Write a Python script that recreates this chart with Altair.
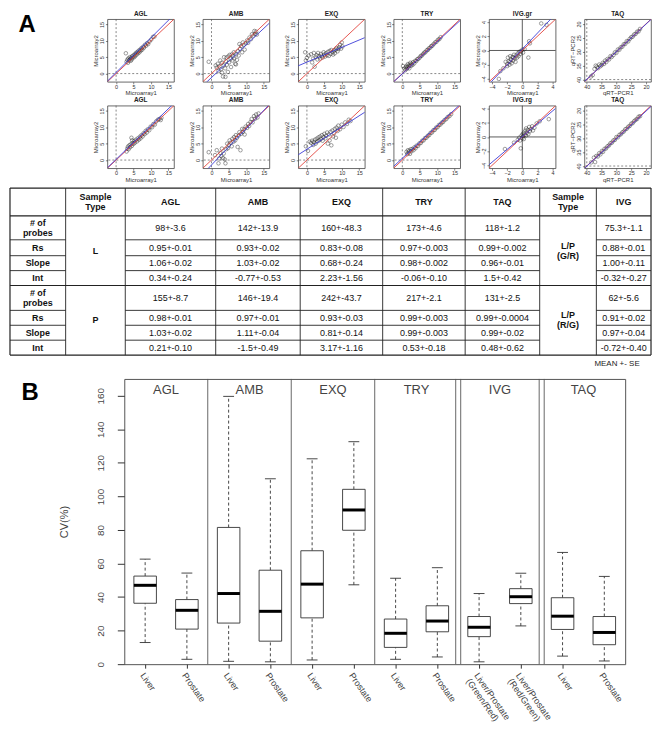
import json
import numpy as np
import pandas as pd
import altair as alt

FONT = "Liberation Sans"
INK = "#333333"

# ---------------- Panel A : scatter data (x, y) ----------------
row1_titles = ["AGL", "AMB", "EXQ", "TRY", "IVG.gr", "TAQ"]
row2_titles = ["AGL", "AMB", "EXQ", "TRY", "IVG.rg", "TAQ"]
panel_kinds = ["micro", "micro", "micro", "micro", "ivg", "taq"]

r1_agl = [(2.8, 6.2), (3.0, 3.6), (3.2, 4.2), (3.4, 3.3), (3.5, 4.6), (3.7, 4.0), (3.9, 5.0), (4.0, 4.4),
          (4.2, 3.9), (4.3, 4.8), (4.5, 4.3), (4.6, 5.3), (4.8, 4.9), (5.0, 5.6), (5.2, 5.0), (5.4, 5.9),
          (5.5, 5.4), (5.7, 6.3), (5.9, 5.8), (6.1, 6.6), (6.3, 6.2), (6.5, 7.0), (6.7, 6.5), (6.9, 7.3),
          (7.1, 7.0), (7.3, 7.8), (7.5, 7.3), (7.8, 8.2), (8.0, 7.9), (8.3, 8.8), (8.6, 8.5), (8.9, 9.3),
          (9.2, 9.0), (9.6, 9.8), (10.1, 10.4), (10.6, 11.2), (11.0, 11.3)]
r1_amb = [(-0.8, 3.6), (1.2, 2.5), (1.5, 1.8), (1.8, 3.0), (2.0, 0.8), (2.3, 2.2), (2.5, 4.0), (2.7, 1.3),
          (3.0, 0.3), (3.0, 3.3), (3.3, -0.9), (3.5, 2.5), (3.6, 5.0), (3.9, 1.6), (4.0, -1.0), (4.1, 3.8),
          (4.3, 4.9), (4.4, 2.7), (4.7, 0.5), (4.8, 5.2), (5.0, 3.4), (5.2, 5.7), (5.5, 4.5), (5.6, 2.0),
          (5.8, 5.8), (6.0, 4.0), (6.2, 5.3), (6.4, 6.5), (6.5, 4.6), (6.8, 3.0), (7.0, 2.8), (7.1, 5.9),
          (7.3, 4.2), (7.6, 6.8), (7.8, 5.5), (8.0, 9.0), (8.2, 7.5), (8.5, 8.4), (8.8, 6.5), (9.0, 9.5),
          (9.3, 8.8), (9.5, 7.3), (9.8, 9.2), (10.2, 10.1), (10.5, 9.4), (10.9, 11.0), (11.3, 10.5),
          (11.6, 12.0), (12.0, 11.6), (12.3, 13.0), (12.5, 12.1), (12.8, 12.8), (13.0, 11.9)]
r1_exq = [(-0.5, 6.5), (0.0, 4.8), (-0.3, 4.0), (0.5, 5.5), (1.2, 5.9), (1.5, 3.4), (1.8, 4.6), (2.0, 6.3),
          (2.2, 2.1), (2.5, 5.0), (2.8, 5.6), (3.0, 4.3), (3.2, 6.3), (3.5, 5.2), (3.8, 4.6), (4.0, 6.0),
          (4.2, 5.4), (4.5, 4.9), (4.8, 6.5), (5.0, 5.8), (5.2, 5.2), (5.5, 6.2), (5.8, 5.6), (6.0, 6.6),
          (6.3, 5.4), (6.5, 6.9), (6.8, 6.0), (7.0, 7.2), (7.3, 6.5), (7.5, 5.8), (7.8, 7.0), (8.0, 6.2),
          (8.3, 7.3), (8.5, 7.8), (8.8, 6.8), (9.0, 7.5), (9.3, 8.0), (9.5, 8.8), (9.8, 7.6), (10.0, 9.5),
          (10.2, 8.3)]
r1_try = [(0.6, 1.5), (0.8, 1.0), (1.0, 2.0), (1.2, 1.4), (1.3, 2.4), (1.5, 1.8), (1.6, 2.9), (1.8, 2.2),
          (2.0, 1.6), (2.1, 2.7), (2.3, 3.3), (2.5, 2.4), (2.7, 3.0), (2.9, 2.6), (3.1, 3.5), (3.4, 3.1),
          (3.7, 3.9), (4.0, 3.8), (4.3, 4.4), (4.6, 4.5), (5.0, 4.9), (5.3, 5.4), (5.6, 5.5), (6.0, 6.0),
          (6.3, 6.4), (6.6, 6.5), (7.0, 7.1), (7.3, 7.2), (7.6, 7.7), (8.0, 7.9), (8.3, 8.4), (8.6, 8.5),
          (9.0, 9.0), (9.4, 9.5), (9.8, 9.7), (10.2, 10.3), (10.6, 10.5), (11.0, 11.1), (0.2, 2.3)]
r1_ivg = [(-3.1, -4.0), (-2.9, -2.9), (-2.5, -2.5), (-2.2, -1.6), (-2.0, -2.2), (-1.9, -1.0), (-1.8, -1.5),
          (-1.7, -2.0), (-1.6, -0.8), (-1.5, -1.3), (-1.4, -1.8), (-1.3, -0.9), (-1.2, -1.4), (-1.1, -0.6),
          (-1.0, -1.1), (-0.9, -1.6), (-0.8, -0.7), (-0.7, -1.0), (-0.6, -0.4), (-0.5, -0.8), (-0.4, -0.2),
          (-0.3, -0.5), (-0.2, -0.1), (0.0, 0.1), (0.1, -0.3), (0.3, 0.2), (0.8, -1.0), (0.9, 1.3),
          (1.0, 1.0), (2.5, 3.8), (3.2, 3.6), (-2.0, -1.9), (-1.6, -1.6), (-1.2, -1.0)]
r1_taq = [(38.6, 38.9), (38.0, 38.4), (37.4, 36.2), (37.0, 35.0), (36.6, 35.4), (36.2, 35.9), (35.8, 34.6),
          (35.4, 35.2), (35.0, 34.8), (34.6, 34.0), (34.2, 34.4), (33.8, 33.2), (33.4, 33.7), (33.0, 32.6),
          (32.5, 32.8), (32.0, 31.6), (31.6, 31.9), (31.0, 31.2), (30.5, 30.2), (30.0, 30.4), (29.5, 29.2),
          (29.0, 29.3), (28.5, 28.4), (28.0, 28.2), (27.5, 27.3), (27.0, 27.2), (26.5, 26.2), (26.0, 26.3),
          (25.5, 25.4), (25.0, 24.8), (24.5, 24.6), (24.0, 23.8), (23.5, 23.6), (23.0, 22.8), (22.5, 22.7),
          (22.0, 21.8)]

r2_agl = [(3.0, 2.6), (3.2, 3.5), (3.4, 4.1), (3.6, 3.3), (3.8, 4.5), (4.0, 3.9), (4.2, 4.8), (4.4, 6.8),
          (4.5, 4.3), (4.6, 6.0), (4.7, 5.2), (5.0, 4.9), (5.2, 5.8), (5.4, 5.3), (5.7, 6.2), (6.0, 5.7),
          (6.2, 6.6), (6.5, 6.2), (6.8, 7.1), (7.0, 6.6), (7.3, 7.6), (7.6, 7.2), (7.9, 8.2), (8.2, 7.9),
          (8.5, 8.9), (8.8, 8.4), (9.1, 9.4), (9.5, 9.1), (9.9, 10.2), (10.3, 10.0), (10.7, 11.0),
          (11.1, 10.8), (11.5, 11.8), (12.0, 12.3), (12.4, 12.5), (12.8, 12.2), (13.0, 12.9)]
r2_amb = [(-0.8, 2.4), (1.0, 1.5), (1.5, 3.0), (2.0, -1.0), (2.2, 0.5), (2.5, 2.2), (2.8, 1.2), (3.0, 3.5),
          (3.3, 0.6), (3.5, 2.0), (3.8, 0.2), (4.0, -1.0), (4.2, 3.3), (4.5, 5.0), (4.7, 3.6), (5.0, 4.6),
          (5.2, 6.0), (5.5, 5.3), (5.8, 4.2), (6.0, 6.5), (6.3, 5.6), (6.5, 7.0), (6.8, 6.0), (7.0, 7.6),
          (7.3, 6.8), (7.5, 4.0), (7.8, 7.5), (8.0, 8.5), (8.3, 3.0), (8.5, 8.0), (8.8, 9.5), (9.0, 8.6),
          (9.3, 9.3), (9.5, 7.8), (9.8, 10.2), (10.2, 9.8), (10.5, 11.0), (10.8, 10.4), (11.2, 11.6),
          (11.5, 12.5), (11.8, 11.5), (12.2, 13.4), (12.5, 12.6), (12.8, 13.9), (13.2, 13.0), (13.5, 14.2)]
r2_exq = [(-0.3, 4.2), (0.3, 2.8), (0.8, 5.6), (1.2, 5.2), (1.5, 5.9), (1.8, 4.6), (2.0, 5.5), (2.3, 6.2),
          (2.5, 5.0), (2.8, 6.5), (3.0, 5.7), (3.3, 6.9), (3.5, 6.0), (3.8, 7.2), (4.0, 6.4), (4.3, 7.6),
          (4.5, 5.9), (4.8, 7.0), (5.0, 8.0), (5.3, 6.6), (5.5, 7.4), (5.8, 8.4), (6.0, 5.0), (6.3, 7.8),
          (6.5, 6.0), (6.8, 8.6), (7.0, 4.5), (7.3, 9.0), (7.5, 7.2), (7.8, 8.2), (8.0, 9.5), (8.3, 6.8),
          (8.5, 9.9), (8.8, 8.9), (9.0, 10.5), (9.5, 9.4), (10.0, 10.8), (10.5, 10.1), (11.0, 11.5),
          (11.5, 11.0), (12.0, 12.3), (12.5, 11.9)]
r2_try = [(1.2, 2.5), (1.4, 1.8), (1.6, 3.0), (1.8, 2.2), (2.0, 2.8), (2.2, 1.9), (2.4, 3.3), (2.6, 2.7),
          (2.9, 3.4), (3.2, 3.0), (3.5, 3.9), (3.8, 3.6), (4.1, 4.4), (4.5, 4.3), (4.9, 5.1), (5.3, 5.2),
          (5.7, 5.9), (6.1, 6.0), (6.5, 6.7), (6.9, 6.8), (7.3, 7.4), (7.7, 7.6), (8.1, 8.3), (8.5, 8.4),
          (8.9, 9.1), (9.3, 9.2), (9.7, 9.9), (10.1, 10.0), (10.5, 10.7), (10.9, 10.8), (11.3, 11.4),
          (11.7, 11.6), (12.1, 12.2), (12.6, 12.5), (13.0, 13.1), (13.5, 13.4), (14.0, 14.0)]
r2_ivg = [(-2.3, -1.7), (-1.1, -0.8), (-0.6, -0.4), (-0.4, -0.1), (-0.3, -0.5), (-0.2, -1.6), (-0.1, 0.2),
          (0.0, -0.2), (0.05, 0.4), (0.1, 0.1), (0.2, -0.3), (0.2, 0.6), (0.3, 0.3), (0.4, 0.9), (0.5, 0.2),
          (0.5, 1.2), (0.6, 0.6), (0.7, 1.0), (0.8, 0.4), (0.9, 1.4), (1.0, 0.8), (1.1, 1.1), (1.3, 1.5),
          (1.4, 0.9), (1.6, 1.3), (1.9, 1.9), (2.3, 2.2), (3.5, 2.5)]
r2_taq = [(38.5, 38.7), (37.2, 38.6), (37.6, 37.0), (36.8, 36.4), (36.3, 36.6), (35.8, 35.4), (35.4, 35.8),
          (34.9, 34.6), (34.5, 34.9), (34.0, 33.8), (33.5, 33.7), (33.0, 32.9), (32.5, 32.6), (32.0, 31.8),
          (31.5, 31.6), (31.0, 30.8), (30.5, 30.6), (30.0, 29.6), (29.5, 29.7), (29.0, 28.8), (28.5, 28.6),
          (28.0, 27.9), (27.5, 27.6), (27.0, 26.8), (26.5, 26.6), (26.0, 25.9), (25.5, 25.6), (25.0, 24.8),
          (24.5, 24.6), (24.0, 23.9), (23.5, 23.4), (23.0, 23.1), (22.5, 22.3), (22.0, 22.1)]

# fitted (blue) line per panel
r1_slope = [1.06, 1.00, 0.45, 0.98, 1.12, 0.99]
r1_icpt = [0.34, -1.2, 3.5, -0.06, 0.2, 0.3]
r2_slope = [1.03, 1.11, 0.68, 0.99, 0.90, 0.99]
r2_icpt = [0.21, -1.5, 3.3, 0.53, 0.05, 0.48]

# ---------------- Panel A : table ----------------
tbl_header = ["", "Sample\nType", "AGL", "AMB", "EXQ", "TRY", "TAQ", "Sample\nType", "IVG"]
row_labels = ["# of\nprobes", "Rs", "Slope", "Int"]
sample_types = ["L", "P"]
ivg_types = ["L/P\n(G/R)", "L/P\n(R/G)"]
agl_vals = ["98+-3.6", "0.95+-0.01", "1.06+-0.02", "0.34+-0.24", "155+-8.7", "0.98+-0.01", "1.03+-0.02", "0.21+-0.10"]
amb_vals = ["142+-13.9", "0.93+-0.02", "1.03+-0.02", "-0.77+-0.53", "146+-19.4", "0.97+-0.01", "1.11+-0.04", "-1.5+-0.49"]
exq_vals = ["160+-48.3", "0.83+-0.08", "0.68+-0.24", "2.23+-1.56", "242+-43.7", "0.93+-0.03", "0.81+-0.14", "3.17+-1.16"]
try_vals = ["173+-4.6", "0.97+-0.003", "0.98+-0.002", "-0.06+-0.10", "217+-2.1", "0.99+-0.003", "0.99+-0.003", "0.53+-0.18"]
taq_vals = ["118+-1.2", "0.99+-0.002", "0.96+-0.01", "1.5+-0.42", "131+-2.5", "0.99+-0.0004", "0.99+-0.02", "0.48+-0.62"]
ivg_vals = ["75.3+-1.1", "0.88+-0.01", "1.00+-0.11", "-0.32+-0.27", "62+-5.6", "0.91+-0.02", "0.97+-0.04", "-0.72+-0.40"]

# ---------------- Panel B : boxplot statistics ----------------
b_groups = ["AGL", "AMB", "EXQ", "TRY", "IVG", "TAQ"]
b_labels = ["Liver", "Prostate", "Liver", "Prostate", "Liver", "Prostate", "Liver", "Prostate",
            "Liver/Prostate\n(Green/Red)", "Liver/Prostate\n(Red/Green)", "Liver", "Prostate"]
b_lo = [12.9, 2.9, 1.7, 1.4, 2.5, 47.3, 2.9, 4.3, 1.4, 22.8, 4.8, 1.9]
b_q1 = [36.3, 20.9, 24.5, 13.7, 27.6, 79.8, 10.0, 19.3, 16.4, 36.1, 20.7, 11.6]
b_med = [47.0, 32.1, 42.1, 31.5, 47.7, 91.9, 18.4, 25.7, 22.0, 40.2, 28.6, 18.9]
b_q3 = [52.5, 38.5, 81.5, 56.0, 67.6, 104.2, 26.9, 34.8, 28.4, 45.0, 39.6, 28.4]
b_hi = [62.6, 54.3, 159.6, 110.5, 122.4, 132.6, 51.2, 57.5, 42.1, 54.2, 66.6, 52.3]

# ================= layout constants =================
PW, PH = 67, 63
PGAP = 29
LEFT_A = 98
TW, TH = 645, 168
col_w = [56, 60, 91, 85, 83, 83, 75, 57, 55]
row_h = [28, 24, 16, 15, 15, 25, 15, 15, 15]
LH = 10
BW, BH = 504, 287
B_LEFT = 115
FRAME = alt.ViewBackground(stroke="#444444", strokeWidth=0.8)
NOFRAME = alt.ViewBackground(stroke="transparent")
one = pd.DataFrame({"v": [0]})


def spacer(w, h, title=None):
    c = alt.Chart(one).mark_point(opacity=0, size=1).encode(x=alt.value(0), y=alt.value(0))
    props = dict(width=w, height=h, view=NOFRAME)
    if title is not None:
        props["title"] = title
    return c.properties(**props)


def scatter_panel(title, pairs, slope, icpt, kind):
    if kind == "micro":
        dom, ticks, ref, rev = [-2.5, 16.6], [0, 5, 10, 15], 0, False
        xt, yt = "Microarray1", "Microarray2"
        rkw = dict(color="#555555", strokeWidth=0.7, strokeDash=[2, 2])
    elif kind == "ivg":
        dom, ticks, ref, rev = [-4.4, 4.4], [-4, -2, 0, 2, 4], 0, False
        xt, yt = "Microarray1", "Microarray2"
        rkw = dict(color="#333333", strokeWidth=0.8)
    else:
        dom, ticks, ref, rev = [18.3, 40.8], [20, 25, 30, 35, 40], 40, True
        xt, yt = "qRT\u2212PCR1", "qRT\u2212PCR2"
        rkw = dict(color="#555555", strokeWidth=0.7, strokeDash=[2, 2])
    sc = alt.Scale(domain=dom, nice=False, zero=False, reverse=rev)
    common = dict(values=ticks, labelFontSize=5.5, titleFontSize=6, titleFontWeight="normal",
                  tickSize=2, tickWidth=0.6, tickColor=INK, labelColor=INK, titleColor=INK,
                  domain=False, grid=False, labelFlush=False, labelOverlap=False, labelPadding=0.5)
    ax_x = alt.Axis(title=xt, titlePadding=0, **common)
    ax_y = alt.Axis(title=yt, titlePadding=1, labelAngle=270, labelAlign="center",
                    labelBaseline="bottom", **common)

    def X():
        return alt.X("x:Q", scale=sc, axis=ax_x)

    def Y():
        return alt.Y("y:Q", scale=sc, axis=ax_y)

    pts = pd.DataFrame(pairs, columns=["x", "y"])
    ident = pd.DataFrame({"x": dom, "y": dom})
    fit = pd.DataFrame({"x": dom, "y": [icpt + slope * v for v in dom]})
    refdf = pd.DataFrame({"x": [ref], "y": [ref]})
    vref = alt.Chart(refdf).mark_rule(**rkw).encode(x=X())
    href = alt.Chart(refdf).mark_rule(**rkw).encode(y=Y())
    pnt = alt.Chart(pts).mark_point(shape="circle", filled=False, size=13, strokeWidth=0.6,
                                    color="#1a1a1a", clip=True).encode(x=X(), y=Y())
    red = alt.Chart(ident).mark_line(color="#e3423c", strokeWidth=0.9, clip=True).encode(x=X(), y=Y())
    blue = alt.Chart(fit).mark_line(color="#3c3cd8", strokeWidth=0.9, clip=True).encode(x=X(), y=Y())
    return alt.layer(vref, href, pnt, red, blue).properties(
        width=PW, height=PH, view=FRAME,
        title=alt.Title(title, fontSize=6.5, fontWeight="bold", offset=1.5, color="#222222"))


r1_data = [r1_agl, r1_amb, r1_exq, r1_try, r1_ivg, r1_taq]
r2_data = [r2_agl, r2_amb, r2_exq, r2_try, r2_ivg, r2_taq]
p1 = [scatter_panel(t, d, s, i, k) for t, d, s, i, k in zip(row1_titles, r1_data, r1_slope, r1_icpt, panel_kinds)]
p2 = [scatter_panel(t, d, s, i, k) for t, d, s, i, k in zip(row2_titles, r2_data, r2_slope, r2_icpt, panel_kinds)]

titleA = alt.Title("A", fontSize=24, fontWeight="bold", anchor="start", orient="top",
                   baseline="top", offset=0, dx=9, dy=18, color="black")
row1 = alt.hconcat(spacer(LEFT_A - PGAP, PH, titleA), *p1, spacing=PGAP, bounds="flush")
row2 = alt.hconcat(spacer(LEFT_A - PGAP, PH), *p2, spacing=PGAP, bounds="flush")

# ---------------- table ----------------
cx = np.cumsum([0] + col_w).astype(float)
ry = np.cumsum([0] + row_h).astype(float)


def ccol(c):
    return (cx[c] + cx[c + 1]) / 2


def crow(r):
    return (ry[r] + ry[r + 1]) / 2


def cell(x, y, t, b):
    # multi-line text is drawn from its first line: centre the block
    n = t.count("\n")
    return dict(x=x, y=y - n * LH / 2, t=t, b=b)


cells = []
for c, h in enumerate(tbl_header):
    cells.append(cell(ccol(c), crow(0), h, 1))
platform_vals = [agl_vals, amb_vals, exq_vals, try_vals, taq_vals]
for r in range(8):
    cells.append(cell(ccol(0), crow(r + 1), row_labels[r % 4], 1))
    for k, vals in enumerate(platform_vals):
        cells.append(cell(ccol(2 + k), crow(r + 1), vals[r], 0))
    cells.append(cell(ccol(8), crow(r + 1), ivg_vals[r], 0))
for blk in range(2):
    ymid = (ry[1 + 4 * blk] + ry[5 + 4 * blk]) / 2
    cells.append(cell(ccol(1), ymid, sample_types[blk], 1))
    cells.append(cell(ccol(7), ymid, ivg_types[blk], 1))
cells = pd.DataFrame(cells)

hl = []
for k in [0, 1, 5, 9]:
    hl.append(dict(x=0.0, x2=float(TW), y=ry[k], w=1.2))
for k in [2, 3, 4, 6, 7, 8]:
    for a, b in [(0, 1), (2, 7), (8, 9)]:
        hl.append(dict(x=cx[a], x2=cx[b], y=ry[k], w=0.9))
hl = pd.DataFrame(hl)
vl = pd.DataFrame([dict(x=cx[c], y=0.0, y2=float(TH), w=1.2 if c in (0, 9) else 0.9) for c in range(10)])

TX = alt.Scale(domain=[0, TW], nice=False, zero=False)
TY = alt.Scale(domain=[0, TH], nice=False, zero=False, reverse=True)
t_h = alt.Chart(hl).mark_rule(color="#222222").encode(
    x=alt.X("x:Q", scale=TX, axis=None), x2="x2:Q", y=alt.Y("y:Q", scale=TY, axis=None),
    strokeWidth=alt.StrokeWidth("w:Q", scale=None))
t_v = alt.Chart(vl).mark_rule(color="#222222").encode(
    x=alt.X("x:Q", scale=TX, axis=None), y=alt.Y("y:Q", scale=TY, axis=None), y2="y2:Q",
    strokeWidth=alt.StrokeWidth("w:Q", scale=None))
t_norm = alt.Chart(cells[cells.b == 0]).mark_text(fontSize=9, color="#111111", lineBreak="\n",
                                                  lineHeight=LH).encode(
    x=alt.X("x:Q", scale=TX, axis=None), y=alt.Y("y:Q", scale=TY, axis=None), text="t:N")
t_bold = alt.Chart(cells[cells.b == 1]).mark_text(fontSize=9, fontWeight="bold", color="#111111",
                                                  lineBreak="\n", lineHeight=LH).encode(
    x=alt.X("x:Q", scale=TX, axis=None), y=alt.Y("y:Q", scale=TY, axis=None), text="t:N")
table = alt.layer(t_h, t_v, t_norm, t_bold).properties(
    width=TW, height=TH, view=NOFRAME,
    title=alt.Title("MEAN +- SE", orient="bottom", anchor="end", fontSize=8, fontWeight="normal",
                    offset=4, dx=-12, color="#222222"))

# ---------------- panel B ----------------
BOX_HALF, CAP_HALF = 0.27, 0.13
bdf = pd.DataFrame({"pos": list(range(1, 13)), "lo": b_lo, "q1": b_q1, "med": b_med, "q3": b_q3, "hi": b_hi})
bdf["bl"] = bdf["pos"] - BOX_HALF
bdf["br"] = bdf["pos"] + BOX_HALF
bdf["cl"] = bdf["pos"] - CAP_HALF
bdf["cr"] = bdf["pos"] + CAP_HALF
sep = []
for g in range(1, len(b_groups)):
    edge = 2 * g + 0.5
    if "IVG" in (b_groups[g], b_groups[g - 1]):
        sep += [edge - 0.06, edge + 0.06]
    else:
        sep.append(edge)
sepdf = pd.DataFrame({"x": sep})
hdr = pd.DataFrame({"x": [2 * g + 1.5 for g in range(len(b_groups))], "t": b_groups})

label_lines = [lab.split("\n") for lab in b_labels]
BX = alt.Scale(domain=[0.5, 12.5], nice=False, zero=False)
BY = alt.Scale(domain=[0, 170], nice=False, zero=False)
bx_axis = alt.Axis(values=list(range(1, 13)), labelExpr=json.dumps(label_lines) + "[datum.value - 1]",
                   labelAngle=55, labelAlign="left", labelBaseline="top", labelFontSize=9,
                   labelLineHeight=10, labelColor="#444444", tickSize=4, tickColor=INK, labelPadding=3,
                   title=None, domain=False, grid=False, labelOverlap=False, labelFlush=False, labelBound=False)
by_axis = alt.Axis(values=list(range(0, 161, 20)), title="CV(%)", labelAngle=270, labelAlign="center",
                   labelBaseline="bottom", labelFontSize=10, labelColor="#444444", tickSize=7,
                   tickColor=INK, labelPadding=12, titlePadding=26, titleFontSize=11,
                   titleFontWeight="normal", titleColor="#444444", domain=False, grid=False)


def BXe(f):
    return alt.X(f + ":Q", scale=BX, axis=bx_axis)


def BYe(f):
    return alt.Y(f + ":Q", scale=BY, axis=by_axis)


b_sep = alt.Chart(sepdf).mark_rule(color="#555555", strokeWidth=0.9).encode(x=BXe("x"))
b_wu = alt.Chart(bdf).mark_rule(color="#333333", strokeWidth=0.9, strokeDash=[3, 2.5]).encode(
    x=BXe("pos"), y=BYe("q3"), y2="hi:Q")
b_wd = alt.Chart(bdf).mark_rule(color="#333333", strokeWidth=0.9, strokeDash=[3, 2.5]).encode(
    x=BXe("pos"), y=BYe("lo"), y2="q1:Q")
b_ch = alt.Chart(bdf).mark_rule(color="#333333", strokeWidth=0.9).encode(x=BXe("cl"), x2="cr:Q", y=BYe("hi"))
b_cl = alt.Chart(bdf).mark_rule(color="#333333", strokeWidth=0.9).encode(x=BXe("cl"), x2="cr:Q", y=BYe("lo"))
b_box = alt.Chart(bdf).mark_rect(fill="white", stroke="#333333", strokeWidth=0.9).encode(
    x=BXe("bl"), x2="br:Q", y=BYe("q1"), y2="q3:Q")
b_med_l = alt.Chart(bdf).mark_rule(color="black", strokeWidth=3).encode(x=BXe("bl"), x2="br:Q", y=BYe("med"))
b_hdr = alt.Chart(hdr).mark_text(fontSize=13, color="#444444", baseline="middle").encode(
    x=BXe("x"), y=alt.value(11), text="t:N")
bchart = alt.layer(b_sep, b_wu, b_wd, b_ch, b_cl, b_box, b_med_l, b_hdr).properties(
    width=BW, height=BH, view=alt.ViewBackground(stroke="#555555", strokeWidth=1))

titleB = alt.Title("B", fontSize=24, fontWeight="bold", anchor="start", orient="top",
                   baseline="top", offset=0, dx=12, dy=27, color="black")
bblock = alt.hconcat(spacer(B_LEFT, BH, titleB), bchart, spacing=0, bounds="flush")

top = alt.vconcat(row1, row2, spacing=0)
mid = alt.vconcat(top, table, spacing=3)
chart = alt.vconcat(mid, bblock, spacing=9).properties(
    padding=0, background="white"
).configure(font=FONT).configure_view(stroke="transparent")

chart.save("out.html", embed_options={"renderer": "svg", "actions": False})
